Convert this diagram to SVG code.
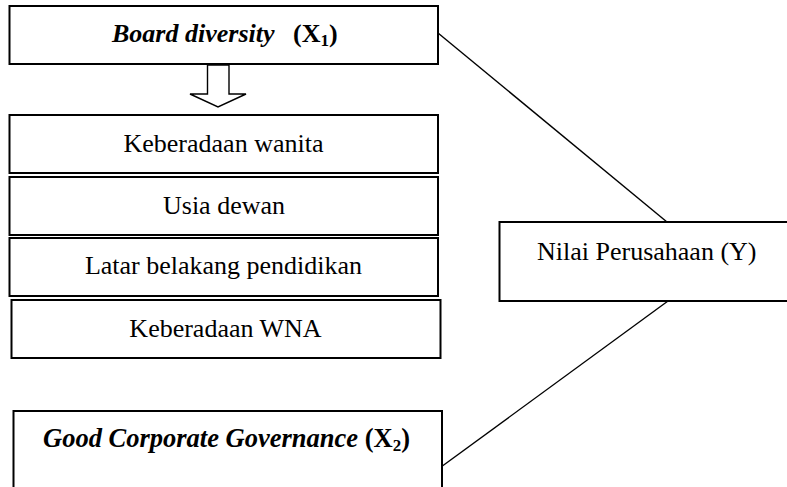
<svg xmlns="http://www.w3.org/2000/svg" width="787" height="487" viewBox="0 0 787 487">
<style>
.box{fill:#fff;stroke:#000;stroke-width:2}
.t{font-family:"Liberation Serif","Times New Roman",serif;font-size:26px;fill:#000}
.c{text-anchor:middle}
.conn{stroke:#000;stroke-width:1.4;fill:none}
</style>
<rect width="787" height="487" fill="#fff"/>
<g id="connectors">
<line class="conn" x1="438" y1="33" x2="667" y2="222"/>
<line class="conn" x1="668" y1="301" x2="441" y2="467"/>
<polygon id="arrow" points="207.5,65 229,65 229,94 246,94 218,107 190,94 207.5,94" fill="#fff" stroke="#000" stroke-width="1.4"/>
</g>
<g id="board-diversity">
<rect class="box" x="9.5" y="6" width="428.5" height="58"/>
<text class="t" x="112" y="42" font-weight="bold"><tspan font-style="italic">Board diversity</tspan><tspan x="293">(X</tspan><tspan font-size="17" dy="4">1</tspan><tspan dy="-4">)</tspan></text>
</g>
<g id="keberadaan-wanita">
<rect class="box" x="9.5" y="115" width="428.5" height="58"/>
<text class="t c" x="223.5" y="152">Keberadaan wanita</text>
</g>
<g id="usia-dewan">
<rect class="box" x="9.5" y="177" width="428.5" height="58"/>
<text class="t c" x="224" y="214">Usia dewan</text>
</g>
<g id="latar-belakang">
<rect class="box" x="9.5" y="238" width="428.5" height="58"/>
<text class="t c" x="223.5" y="274">Latar belakang pendidikan</text>
</g>
<g id="keberadaan-wna">
<rect class="box" x="11.5" y="300" width="429" height="58"/>
<text class="t c" x="225.5" y="337">Keberadaan WNA</text>
</g>
<g id="nilai-perusahaan">
<rect class="box" x="499.5" y="222" width="300" height="79"/>
<text class="t" x="537" y="260">Nilai Perusahaan (Y)</text>
</g>
<g id="gcg">
<rect class="box" x="13.5" y="411" width="428.5" height="90"/>
<text class="t" x="43" y="447" font-weight="bold" style="font-size:26.5px"><tspan font-style="italic">Good Corporate Governance</tspan><tspan> (X</tspan><tspan style="font-size:17px" dy="4">2</tspan><tspan dy="-4">)</tspan></text>
</g>
</svg>
